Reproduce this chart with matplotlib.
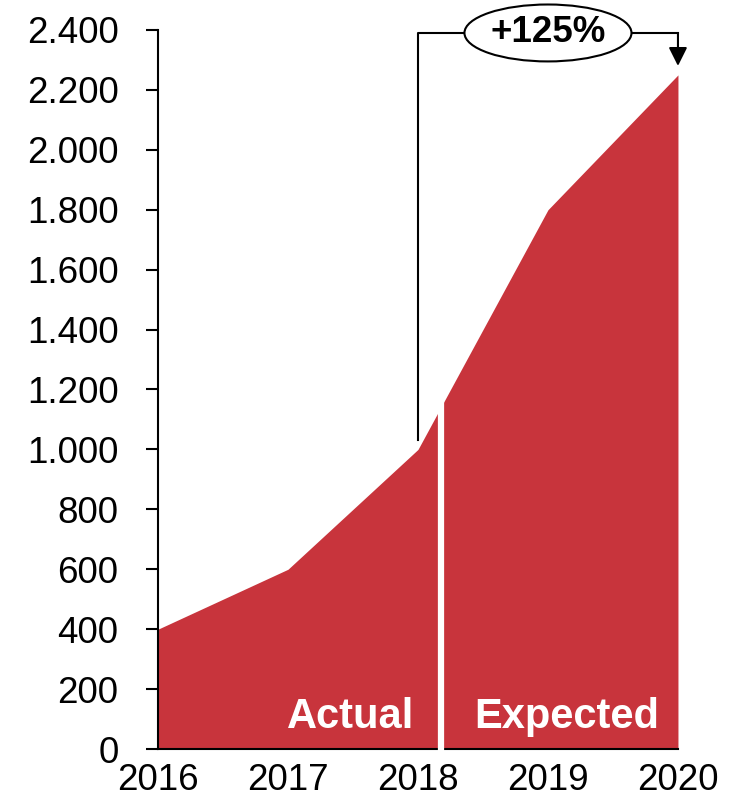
import matplotlib.pyplot as plt
import numpy as np
from matplotlib.patches import Ellipse

plt.rcParams['font.family'] = ['Liberation Sans', 'DejaVu Sans']

# Werte pro Jahr (2016-2018 Ist, 2019-2020 Prognose)
years = [2016, 2017, 2018, 2019, 2020]
values = [400, 600, 1000, 1800, 2250]
y_ticks = [0, 200, 400, 600, 800, 1000, 1200, 1400, 1600, 1800, 2000, 2200, 2400]
split = 2018.18          # Trennung Ist / Prognose
growth_label = "+125%"
red = '#C8343C'

fig = plt.figure(figsize=(7.46, 7.97), dpi=100)
ax = fig.add_axes([0.2118, 0.0602, 0.697, 0.9022])

ax.fill_between(years, values, 0, color=red, linewidth=0, zorder=1)

# weiße Trennlinie durch Fläche und Grundlinie
top_at_split = np.interp(split, years, values)
ax.plot([split, split], [-15, top_at_split + 40], color='white', lw=4.5,
        solid_capstyle='butt', zorder=5, clip_on=False)

ax.set_xlim(years[0], years[-1])
ax.set_ylim(0, 2400)
ax.set_yticks(y_ticks)
ax.set_yticklabels([f"{v:,}".replace(',', '.') for v in y_ticks])
ax.set_xticks(years)
ax.set_xticklabels([str(y) for y in years])

ax.tick_params(axis='y', direction='out', length=8.5, width=1.5, pad=20,
               labelsize=26.5)
ax.tick_params(axis='x', length=0, pad=10, labelsize=26.5)
for s in ['top', 'right']:
    ax.spines[s].set_visible(False)
for s in ['left', 'bottom']:
    ax.spines[s].set_linewidth(1.5)
    ax.spines[s].set_zorder(3)

ax.text(2017.97, 107, "Actual", color='white', fontsize=30, fontweight='bold',
        ha='right', va='center', zorder=6)
ax.text(2018.43, 107, "Expected", color='white', fontsize=30, fontweight='bold',
        ha='left', va='center', zorder=6)

# Klammer mit Pfeil von 2018 bis 2020
i0, i1 = years.index(2018), years.index(2020)
bracket_y = 2390
ax.plot([years[i0], years[i0], years[i1]],
        [values[i0] + 30, bracket_y, bracket_y],
        color='black', lw=1.5, clip_on=False, zorder=4)
ax.annotate('', xy=(years[i1], values[i1] + 30), xytext=(years[i1], bracket_y),
            arrowprops=dict(arrowstyle='-|>', color='black', lw=1.5,
                            mutation_scale=28, shrinkA=0, shrinkB=0),
            annotation_clip=False, zorder=4)

mid = (years[i0] + years[i1]) / 2
ax.add_patch(Ellipse((mid, bracket_y), 1.285, 190, facecolor='white',
                     edgecolor='black', lw=1.5, clip_on=False, zorder=7))
ax.text(mid, bracket_y, growth_label, fontsize=26.5, fontweight='bold',
        ha='center', va='center', zorder=8)

fig.savefig('out.png', dpi=100)
